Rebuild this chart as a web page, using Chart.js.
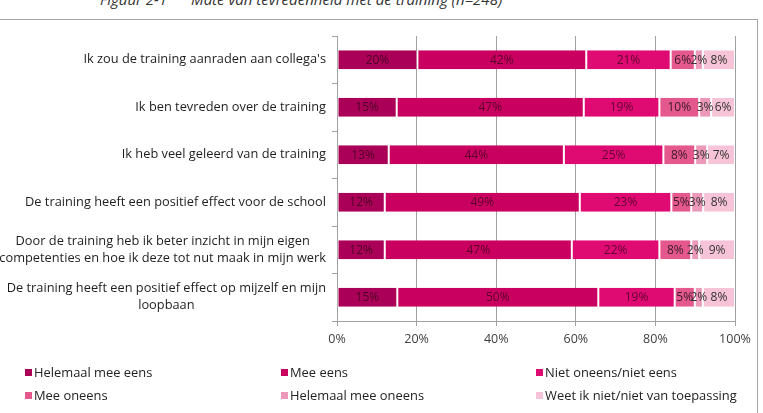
<!DOCTYPE html>
<html>
<head>
<meta charset="utf-8">
<script src="https://cdn.jsdelivr.net/npm/chart.js@4.4.0/dist/chart.umd.min.js"></script>
<style>
  html, body { margin: 0; padding: 0; background: #fff; overflow: hidden; }
  #wrap { position: relative; width: 763px; height: 413px; overflow: hidden; font-family: "Open Sans", sans-serif; }
  #frame { position: absolute; left: -2px; top: 19px; width: 760px; height: 420px; border: 1px solid #a6a6a6; box-sizing: border-box; }
  #title { position: absolute; left: 100px; top: -9px; font-size: 15px; line-height: 16px; font-style: italic; color: #333; white-space: pre; }
  #title span { margin-left: 24px; }
  #chart { position: absolute; left: 0; top: 0; }
  .item { position: absolute; font-size: 12.9px; line-height: 16px; color: #222; white-space: nowrap; }
  .item i { position: absolute; left: -9px; top: 5px; width: 7px; height: 7px; }
</style>
</head>
<body>
<div id="wrap">
  <div id="title">Figuur 2-1<span>Mate van tevredenheid met de training (n=248)</span></div>
  <div id="frame"></div>
  <canvas id="chart" width="763" height="413"></canvas>
  <div id="legend"></div>
</div>
<script>
// categories (top to bottom)
const categories = [
  "Ik zou de training aanraden aan collega's",
  "Ik ben tevreden over de training",
  "Ik heb veel geleerd van de training",
  "De training heeft een positief effect voor de school",
  ["Door de training heb ik beter inzicht in mijn eigen", "competenties en hoe ik deze tot nut maak in mijn werk"],
  ["De training heeft een positief effect op mijzelf en mijn", "loopbaan"]
];

const seriesNames = [
  "Helemaal mee eens",
  "Mee eens",
  "Niet oneens/niet eens",
  "Mee oneens",
  "Helemaal mee oneens",
  "Weet ik niet/niet van toepassing"
];

// percentages as printed in the bars
const helemaalMeeEens   = [20, 15, 13, 12, 12, 15];
const meeEens           = [42, 47, 44, 49, 47, 50];
const nietOneens        = [21, 19, 25, 23, 22, 19];
const meeOneens         = [6, 10, 8, 5, 8, 5];
const helemaalMeeOneens = [2, 3, 3, 3, 2, 2];
const weetNiet          = [8, 6, 7, 8, 9, 8];

const xTicks = [0, 20, 40, 60, 80, 100];

const colors = ["#ab0057", "#c9005f", "#df0a72", "#e4588e", "#ec98b8", "#f6c4d6"];
const labelColors = ["#4e0028", "#5c002c", "#620632", "#3a1a28", "#333333", "#333333"];

const series = [helemaalMeeEens, meeEens, nietOneens, meeOneens, helemaalMeeOneens, weetNiet];

// 100% stacked: scale every row to its own total, like the original chart
const rowTotals = categories.map((_, j) => series.reduce((s, arr) => s + arr[j], 0));

const datasets = series.map((arr, i) => ({
  label: seriesNames[i],
  data: arr.map((v, j) => v / rowTotals[j] * 100),
  raw: arr,
  backgroundColor: colors[i],
  borderColor: "rgba(255,255,255,0.75)",
  borderWidth: { left: 1, right: 1, top: 0, bottom: 0 },
  borderSkipped: false,
  categoryPercentage: 1,
  barPercentage: 0.4
}));

const segmentLabels = {
  id: "segmentLabels",
  afterDatasetsDraw(chart) {
    const ctx = chart.ctx;
    ctx.save();
    ctx.font = '12px "Open Sans"';
    ctx.textAlign = "center";
    ctx.textBaseline = "middle";
    chart.data.datasets.forEach((ds, i) => {
      chart.getDatasetMeta(i).data.forEach((bar, j) => {
        const p = bar.getProps(["x", "y", "base"], true);
        ctx.fillStyle = labelColors[i];
        ctx.fillText(ds.raw[j] + "%", (p.x + p.base) / 2, p.y + 0.5);
      });
    });
    ctx.restore();
  }
};

// category labels: block right aligned, lines centered within the block
const categoryLabels = {
  id: "categoryLabels",
  afterDraw(chart) {
    const ctx = chart.ctx;
    const yScale = chart.scales.y;
    const right = chart.chartArea.left - 11;
    ctx.save();
    ctx.font = '12.8px "Open Sans"';
    ctx.fillStyle = "#1e1e1e";
    ctx.textAlign = "center";
    ctx.textBaseline = "middle";
    categories.forEach((lab, j) => {
      const lines = Array.isArray(lab) ? lab : [lab];
      const w = Math.max(...lines.map(l => ctx.measureText(l).width));
      const cx = right - w / 2;
      const lh = 17;
      const y0 = yScale.getPixelForTick(j) - (lines.length - 1) * lh / 2;
      lines.forEach((l, k) => ctx.fillText(l, cx, y0 + k * lh));
    });
    ctx.restore();
  }
};

new Chart(document.getElementById("chart"), {
  type: "bar",
  data: { labels: categories, datasets },
  options: {
    indexAxis: "y",
    responsive: false,
    animation: false,
    layout: { padding: { left: 0, right: 28, top: 36, bottom: 62 } },
    plugins: { legend: { display: false }, tooltip: { enabled: false } },
    scales: {
      x: {
        type: "linear",
        stacked: true,
        min: 0,
        max: 100,
        afterBuildTicks: s => { s.ticks = xTicks.map(v => ({ value: v })); },
        afterFit: s => { s.height = 30; },
        ticks: {
          callback: v => v + "%",
          color: "#404040",
          font: { family: "Open Sans", size: 12.5 },
          padding: 6
        },
        grid: { color: "#a0a0a0", tickLength: 5 },
        border: { color: "#a0a0a0" }
      },
      y: {
        stacked: true,
        afterFit: s => { s.width = 337; },
        ticks: { display: false },
        grid: { drawOnChartArea: false, tickLength: 5, color: "#a0a0a0" },
        border: { color: "#a0a0a0" }
      }
    }
  },
  plugins: [segmentLabels, categoryLabels]
});

// legend: three columns, two rows
const legendCols = [34, 290, 545];
const legendRows = [364, 387];
const legend = document.getElementById("legend");
seriesNames.forEach((name, i) => {
  const d = document.createElement("div");
  d.className = "item";
  d.style.left = legendCols[i % 3] + "px";
  d.style.top = legendRows[Math.floor(i / 3)] + "px";
  d.innerHTML = '<i style="background:' + colors[i] + '"></i>' + name;
  legend.appendChild(d);
});
</script>
</body>
</html>
